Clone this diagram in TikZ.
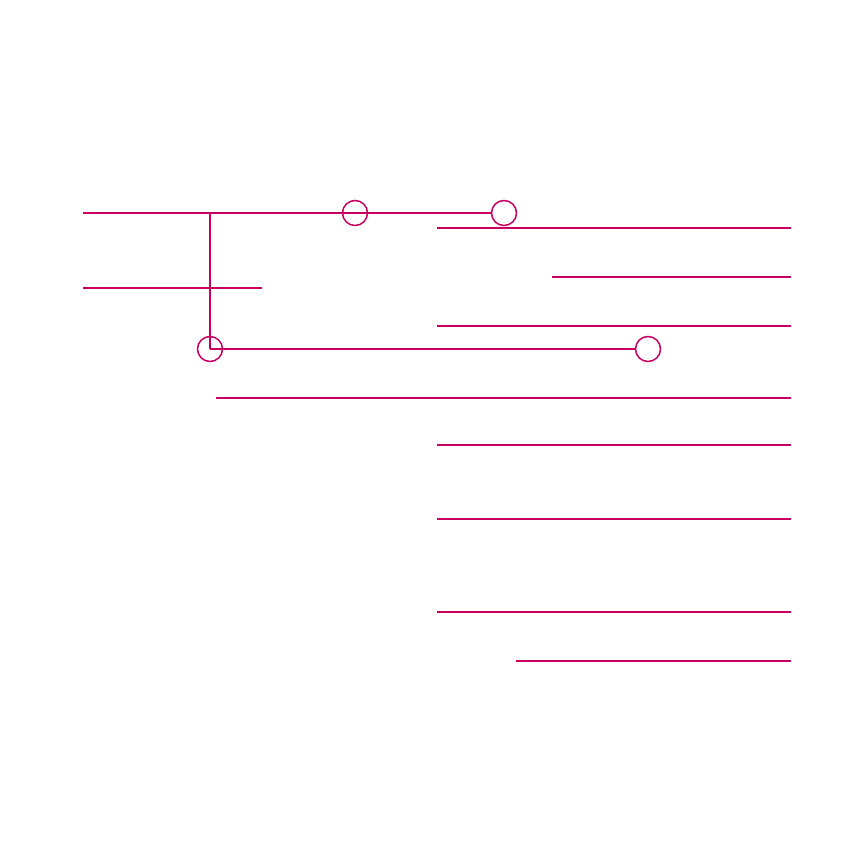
\documentclass[tikz,border=0pt]{standalone}
\definecolor{rub}{RGB}{200,0,95}
\begin{document}
\begin{tikzpicture}[x=1pt,y=-1pt,
  ln/.style={draw=rub,line width=1.5pt},
  ring/.style={circle,draw=rub,line width=1.5pt,minimum size=25pt,inner sep=0pt}]
\useasboundingbox (0,0) rectangle (851,851);
% circles
\node[ring] (c1) at (355,213) {};
\node[ring] (c2) at (504,213) {};
\node[ring] (c3) at (210,349) {};
\node[ring] (c4) at (648,349) {};
% free ends
\coordinate (a0) at (83,213);
\coordinate (j0) at (210,213);
\coordinate (b0) at (83,288);
\coordinate (b1) at (262,288);
% left structure
\draw[ln] (a0) -- (c2.west);
\draw[ln] (j0) -- (c3.center);
\draw[ln] (b0) -- (b1);
\draw[ln] (c3.center) -- (c4.west);
% right-side rules
\foreach \n/\xs/\y in {r1/437/228, r2/552/277, r3/437/326, r4/216/398, r5/437/445, r6/437/519, r7/437/612, r8/516/661}{
  \coordinate (\n s) at (\xs,\y);
  \coordinate (\n e) at (791,\y);
  \draw[ln] (\n s) -- (\n e);
}
\end{tikzpicture}
\end{document}
